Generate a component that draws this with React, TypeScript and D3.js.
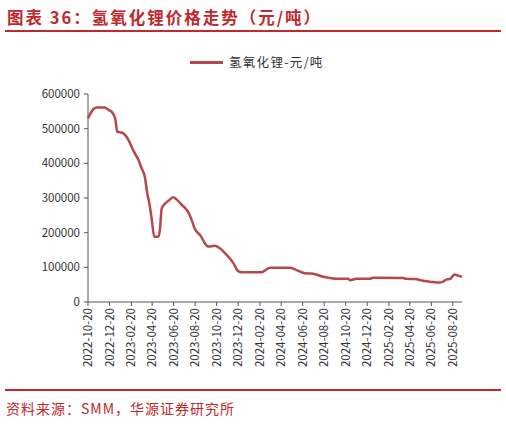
import * as d3 from 'd3';
import React from 'react';

// 氢氧化锂价格 (元/吨)
const dates = [
  '2022-10-20', '2022-11-04', '2022-11-14', '2022-12-07', '2022-12-17', '2022-12-26',
  '2023-01-05', '2023-01-11', '2023-01-24', '2023-02-02', '2023-02-13', '2023-02-25',
  '2023-03-12', '2023-03-21', '2023-03-31', '2023-04-06', '2023-04-12', '2023-04-19',
  '2023-04-26', '2023-05-07', '2023-05-12', '2023-05-17', '2023-05-26', '2023-06-05',
  '2023-06-19', '2023-06-28', '2023-07-13', '2023-07-31', '2023-08-10', '2023-08-19',
  '2023-09-03', '2023-09-26', '2023-10-15', '2023-10-29', '2023-11-17', '2023-12-06',
  '2023-12-20', '2023-12-30', '2024-02-24', '2024-03-19', '2024-05-15', '2024-05-29',
  '2024-06-26', '2024-07-15', '2024-08-17', '2024-09-24', '2024-10-27', '2024-11-01',
  '2024-11-20', '2024-12-27', '2025-01-06', '2025-04-01', '2025-04-10', '2025-05-04',
  '2025-05-28', '2025-06-20', '2025-07-14', '2025-07-22', '2025-08-02', '2025-08-11',
  '2025-08-25', '2025-09-04', '2025-09-15',
];
const prices = [
  530000, 556000, 561000, 561000, 554000, 549000,
  530000, 491000, 489000, 482000, 465000, 438000,
  410000, 386000, 357000, 314000, 285000, 237000,
  188000, 188000, 208000, 270000, 283000, 292000,
  302000, 296000, 280000, 260000, 237000, 211000,
  193000, 160000, 162000, 155000, 136000, 113000,
  89000, 86000, 86000, 99000, 99000, 94000,
  83000, 82000, 73000, 67000, 67000, 63000,
  67000, 67000, 70000, 69000, 67000, 66000,
  61000, 58000, 56000, 58000, 65000, 66000,
  79000, 76000, 73000,
];
const tickDates = [
  '2022-10-20', '2022-12-20', '2023-02-20', '2023-04-20', '2023-06-20', '2023-08-20',
  '2023-10-20', '2023-12-20', '2024-02-20', '2024-04-20', '2024-06-20', '2024-08-20',
  '2024-10-20', '2024-12-20', '2025-02-20', '2025-04-20', '2025-06-20', '2025-08-20',
];
const yTicks = [0, 100000, 200000, 300000, 400000, 500000, 600000];

const RED = '#c0282e';
const LINE = '#b8474c';
const TEXT = '#333333';
const FONT = '"Noto Sans CJK SC", "Noto Sans", sans-serif';

const parse = d3.timeParse('%Y-%m-%d');

export default function App() {
  const width = 506;
  const height = 424;
  const margin = { left: 88, right: 44, top: 94, bottom: 122 };

  const x = d3
    .scaleTime()
    .domain([parse('2022-10-20') as Date, parse('2025-09-15') as Date])
    .range([margin.left, width - margin.right]);
  const y = d3
    .scaleLinear()
    .domain([0, 600000])
    .range([height - margin.bottom, margin.top]);

  const pts = dates.map((d, i) => ({ date: parse(d) as Date, v: prices[i] }));
  const line = d3
    .line<any>()
    .x((d) => x(d.date))
    .y((d) => y(d.v))
    .curve(d3.curveMonotoneX);

  const y0 = y(0);

  return (
    <svg
      width={width}
      height={height}
      style={{ position: 'absolute', left: 0, top: 0, background: '#fff' }}
    >
      <text
        x={7}
        y={24}
        fill={RED}
        fontSize={16.5}
        fontWeight="bold"
        fontFamily={FONT}
        letterSpacing={2}
      >
        图表 36：氢氧化锂价格走势（元/吨）
      </text>
      <line x1={5} x2={501} y1={31} y2={31} stroke={RED} strokeWidth={2} />

      {/* legend */}
      <line x1={190} x2={223} y1={62.5} y2={62.5} stroke={LINE} strokeWidth={3} />
      <text x={229} y={67} fill={TEXT} fontSize={12.5} fontFamily={FONT} letterSpacing={1.3}>
        氢氧化锂-元/吨
      </text>

      {/* y axis */}
      <line x1={margin.left} x2={margin.left} y1={y(600000)} y2={y0} stroke="#555" />
      {yTicks.map((t) => (
        <g key={t}>
          <line x1={margin.left - 4} x2={margin.left} y1={y(t)} y2={y(t)} stroke="#555" />
          <text
            x={margin.left - 8}
            y={y(t)}
            dy="0.35em"
            textAnchor="end"
            fill={TEXT}
            fontSize={11.5}
            fontFamily={FONT}
          >
            {t}
          </text>
        </g>
      ))}

      {/* x axis */}
      <line x1={margin.left} x2={width - margin.right} y1={y0} y2={y0} stroke="#555" />
      {tickDates.map((t) => {
        const tx = x(parse(t) as Date);
        return (
          <g key={t}>
            <line x1={tx} x2={tx} y1={y0} y2={y0 + 4} stroke="#555" />
            <text
              transform={`translate(${tx},${y0 + 6}) rotate(-90)`}
              dy="0.35em"
              textAnchor="end"
              fill={TEXT}
              fontSize={11.5}
              fontFamily={FONT}
            >
              {t}
            </text>
          </g>
        );
      })}

      <path
        d={line(pts) || ''}
        fill="none"
        stroke={LINE}
        strokeWidth={2.5}
        strokeLinejoin="round"
      />

      <line x1={5} x2={501} y1={390} y2={390} stroke={RED} strokeWidth={2} />
      <text x={6} y={414} fill={RED} fontSize={14} fontFamily={FONT} letterSpacing={1}>
        资料来源：SMM，华源证券研究所
      </text>
    </svg>
  );
}
